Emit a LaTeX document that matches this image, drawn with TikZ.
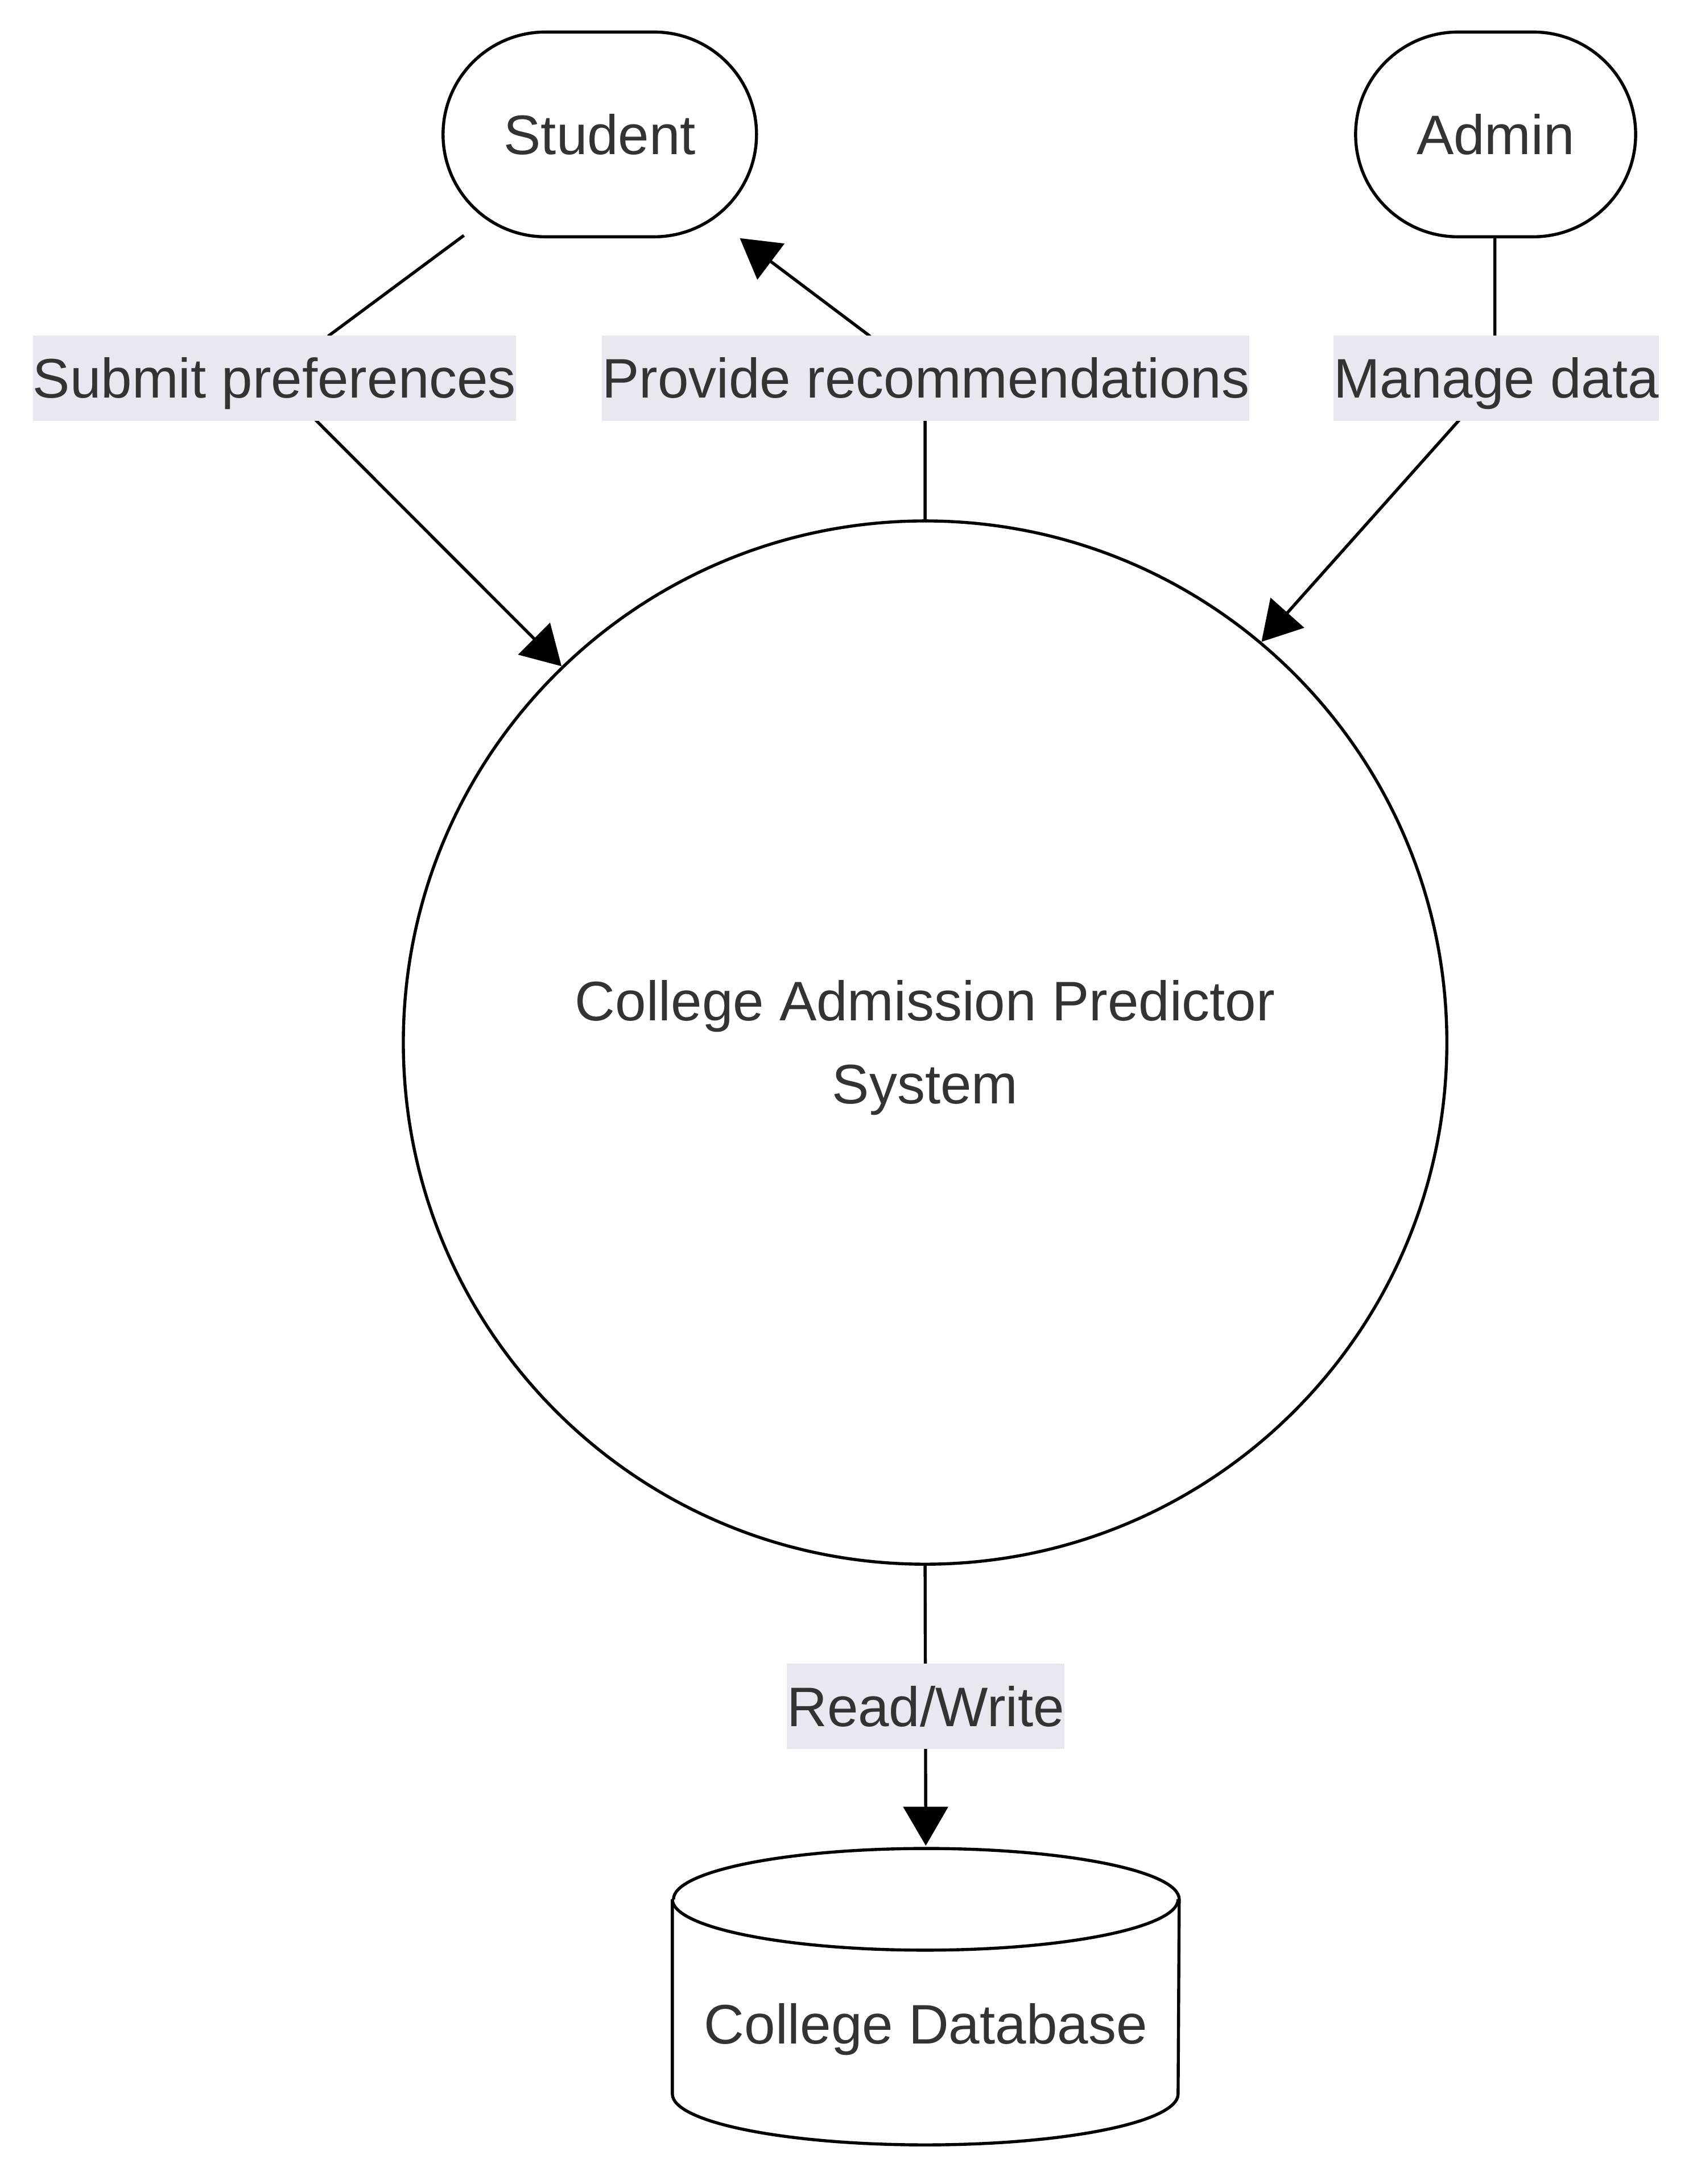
\documentclass[tikz,border=0pt]{standalone}
\usepackage{fontspec}
\setmainfont{Liberation Sans}
\usetikzlibrary{arrows.meta,calc}
\definecolor{txt}{HTML}{333333}
\definecolor{lblbg}{HTML}{E8E8F0}
\tikzset{
  base/.style={font=\fontsize{20pt}{30pt}\selectfont, text=txt},
  actor/.style={base, draw=black, line width=1.1pt, fill=white, rounded corners=36.75pt, inner sep=0pt},
  procnode/.style={draw=black, line width=1.1pt, circle, minimum size=374.5pt, inner sep=0pt},
  edgelbl/.style={base, fill=lblbg, inner sep=0pt, minimum height=30.5pt, text height=14.3pt, text depth=0pt},
  flow/.style={draw=black, line width=1.1pt, -{Triangle[length=14pt,width=16pt]}},
}
\begin{document}
\begin{tikzpicture}[x=0.5pt,y=-0.5pt]
\useasboundingbox[fill=white] (0,0) rectangle (1218,1568);

% nodes
\node[actor, minimum width=112.5pt, minimum height=73.5pt, text height=14.3pt, text depth=0pt] (student) at (430.5,96.5) {Student};
\node[actor, minimum width=100.5pt, minimum height=73.5pt, text height=14.3pt, text depth=0pt] (admin) at (1073.5,96.5) {Admin};
\node[procnode] (sys) at (664,748.5) {};
\node[base, align=center, inner sep=0pt] (systext) at (664,752.2) {College Admission Predictor\\System};

% database cylinder
\node[minimum width=181.5pt, minimum height=106pt, inner sep=0pt] (db) at (664.5,1433.5) {};
\draw[line width=1.1pt, fill=white]
  ([yshift=-18.25pt]db.north west) -- ([yshift=18.25pt]db.south west)
  arc[start angle=180, end angle=360, x radius=90.75pt, y radius=18.25pt]
  -- ([yshift=-18.25pt]db.north east)
  arc[start angle=0, end angle=180, x radius=90.75pt, y radius=18.25pt];
\draw[line width=1.1pt]
  ([yshift=-18.25pt]db.north west)
  arc[start angle=180, end angle=360, x radius=90.75pt, y radius=18.25pt];
\node[base, text height=14.3pt, text depth=0pt, inner sep=0pt] (dbtext) at (664.5,1453) {College Database};

% waypoints
\coordinate (s1) at (333,169);
\coordinate (s2) at (236,241);
\coordinate (s3) at (226,301);
\coordinate (p1) at (664,302);
\coordinate (p2) at (624,241);
\coordinate (p3) at (531,171);
\coordinate (a1) at (1073,170);
\coordinate (a2) at (1073,241);
\coordinate (a3) at (1047,302);

% connectors
\draw[flow] (s1) -- (s2) -- (s3) -- (sys.134);
\draw[flow] (sys.north) -- (p1) -- (p2) -- (p3);
\draw[flow] (a1) -- (a2) -- (a3) -- (sys.50);
\draw[flow] (sys.south) -- ([yshift=1pt]db.north);

% edge labels
\node[edgelbl] (lsubmit) at (197,271.5) {Submit preferences};
\node[edgelbl] (lprovide) at (664.5,271.5) {Provide recommendations};
\node[edgelbl] (lmanage) at (1074,271.5) {Manage data};
\node[edgelbl] (lrw) at (664.5,1225) {Read/Write};
\end{tikzpicture}
\end{document}
